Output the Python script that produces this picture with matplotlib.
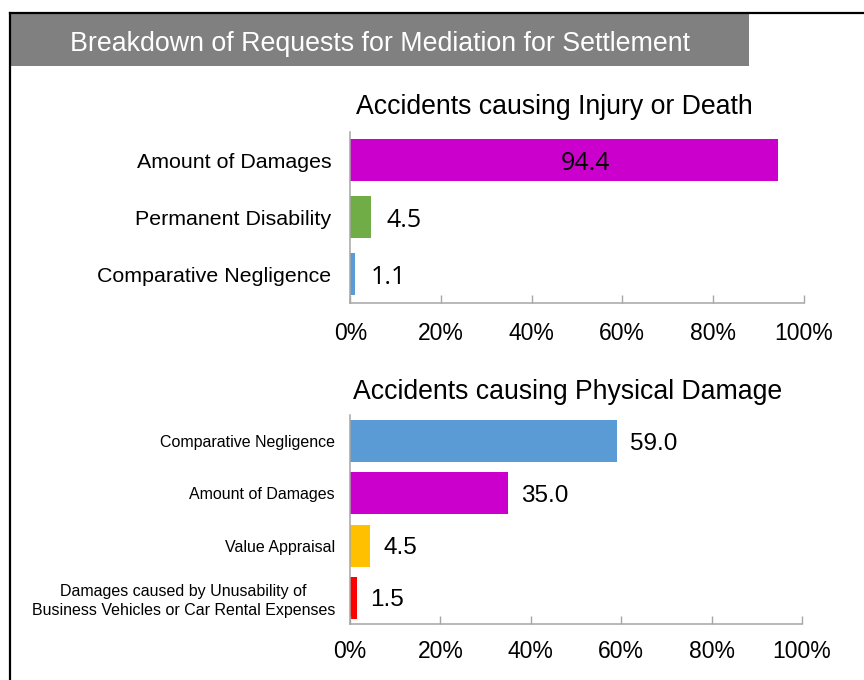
import matplotlib
matplotlib.use("Agg")
import matplotlib.pyplot as plt
from matplotlib.patches import Rectangle
from matplotlib.lines import Line2D

plt.rcParams['font.family'] = ['Liberation Sans', 'DejaVu Sans']

# ---------------- data ----------------
main_title = "Breakdown of Requests for Mediation for Settlement"

injury_title = "Accidents causing Injury or Death"
injury_categories = ["Amount of Damages", "Permanent Disability", "Comparative Negligence"]
injury_values = [94.4, 4.5, 1.1]
injury_colors = ["#CC00CC", "#70AD47", "#5B9BD5"]

damage_title = "Accidents causing Physical Damage"
damage_categories = ["Comparative Negligence", "Amount of Damages", "Value Appraisal",
                     "Damages caused by Unusability of\nBusiness Vehicles or Car Rental Expenses"]
damage_values = [59.0, 35.0, 4.5, 1.5]
damage_colors = ["#5B9BD5", "#CC00CC", "#FFC000", "#FF0000"]

x_ticks = [0, 20, 40, 60, 80, 100]
x_tick_labels = ["0%", "20%", "40%", "60%", "80%", "100%"]

# ---------------- figure ----------------
W, H = 864, 680
fig = plt.figure(figsize=(W / 100, H / 100), dpi=100)
fig.patch.set_facecolor("white")


def fx(px):
    return px / W


def fy(py):
    return 1 - py / H


# frame lines (top and left)
fig.add_artist(Line2D([fx(9.5), fx(W)], [fy(12.8), fy(12.8)], color="black", lw=1.6,
                      transform=fig.transFigure))
fig.add_artist(Line2D([fx(9.8), fx(9.8)], [fy(12.8), fy(H)], color="black", lw=1.6,
                      transform=fig.transFigure))

# banner
fig.add_artist(Rectangle((fx(10.8), fy(65.5)), fx(749) - fx(10.8), fy(13.6) - fy(65.5),
                         transform=fig.transFigure, facecolor="#808080", edgecolor="none"))
fig.text(fx(70), fy(51), main_title, color="white", fontsize=19.3, ha="left", va="baseline")

AXIS_GRAY = "#A6A6A6"


def style_axes(ax, label_size, label_pad, tick_label_size, tick_pad):
    for s in ["top", "right"]:
        ax.spines[s].set_visible(False)
    for s in ["left", "bottom"]:
        ax.spines[s].set_color(AXIS_GRAY)
        ax.spines[s].set_linewidth(1.1)
    ax.set_xlim(0, 100)
    ax.set_xticks(x_ticks)
    ax.set_xticklabels(x_tick_labels)
    ax.tick_params(axis="x", direction="in", length=5.5, width=1.0, color=AXIS_GRAY,
                   labelsize=tick_label_size, pad=tick_pad, labelcolor="black")
    ax.tick_params(axis="y", length=0, labelsize=label_size, pad=label_pad, labelcolor="black")
    ax.set_facecolor("none")


# ---------------- top chart ----------------
ax1 = fig.add_axes([fx(350.3), fy(302.7), fx(803.7) - fx(350.3), fy(131.7) - fy(302.7)])
n1 = len(injury_categories)
ax1.barh(range(n1), injury_values, height=0.737, color=injury_colors)
ax1.set_ylim(n1 - 0.5, -0.5)
ax1.set_yticks(range(n1))
ax1.set_yticklabels(injury_categories)
style_axes(ax1, 15.4, 13.7, 16.5, 14.0)
for i, v in enumerate(injury_values):
    if v > 90:
        ax1.text(v * 0.55, i, f"{v:.1f}", ha="center", va="center_baseline",
                 fontsize=18, family=["Open Sans", "DejaVu Sans"], color="black")
    else:
        ax1.text(v + 3.5, i, f"{v:.1f}", ha="left", va="center_baseline",
                 fontsize=18, family=["Open Sans", "DejaVu Sans"], color="black")
fig.text(fx(554.8), fy(114.3), injury_title, fontsize=19.2, ha="center", va="baseline")

# ---------------- bottom chart ----------------
ax2 = fig.add_axes([fx(350), fy(624), fx(802) - fx(350), fy(415) - fy(624)])
n2 = len(damage_categories)
ax2.barh(range(n2), damage_values, height=0.8, color=damage_colors)
ax2.set_ylim(n2 - 0.5, -0.5)
ax2.set_yticks(range(n2))
ax2.set_yticklabels(damage_categories)
style_axes(ax2, 11.5, 10.8, 16.5, 11.5)
for t in ax2.get_yticklabels():
    t.set_multialignment("center")
    t.set_linespacing(1.3)
for i, v in enumerate(damage_values):
    ax2.text(v + 2.9, i, f"{v:.1f}", ha="left", va="center_baseline",
             fontsize=17.5, color="black")
fig.text(fx(567.8), fy(399.3), damage_title, fontsize=19.2, ha="center", va="baseline")

fig.savefig("out.png", dpi=100, facecolor="white")
